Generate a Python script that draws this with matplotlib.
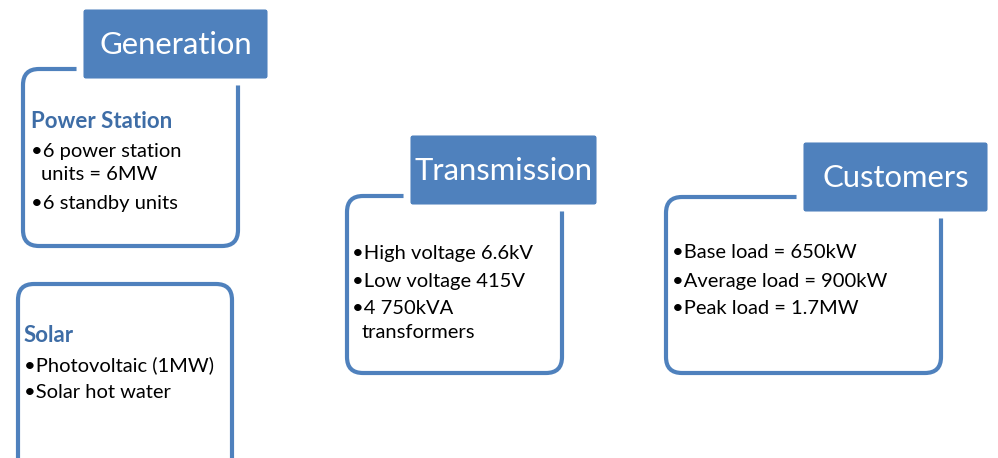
import matplotlib.pyplot as plt
from matplotlib.patches import FancyBboxPatch

plt.rcParams['font.family'] = ['Lato', 'DejaVu Sans']

# header boxes: label, (x, y, w, h) in pixels
headers = ['Generation', 'Transmission', 'Customers']
header_boxes = [(80, 6, 191, 76), (407, 132, 193, 76), (800, 139, 191, 76)]

# outline boxes
outline_boxes = [(23, 69, 215, 177), (18, 284, 214, 190), (347, 196, 215, 177), (666, 197, 275, 176)]

# sub-headings inside boxes
sub_titles = ['Power Station', 'Solar', '', '']
sub_title_y = [121, 335, 0, 0]

# bullet lines: (text, is_continuation)
box_lines = [
    [('6 power station', False), ('units = 6MW', True), ('6 standby units', False)],
    [('Photovoltaic (1MW)', False), ('Solar hot water', False)],
    [('High voltage 6.6kV', False), ('Low voltage 415V', False), ('4 750kVA', False), ('transformers', True)],
    [('Base load = 650kW', False), ('Average load = 900kW', False), ('Peak load = 1.7MW', False)],
]
line_y = [
    [151, 174, 203],
    [365, 393],
    [253, 281, 309, 333],
    [253, 281, 309],
]
text_x = [31, 24, 352, 672]

blue = '#4F81BD'
dark_blue = '#3E6DA6'

fig = plt.figure(figsize=(9.98, 4.58), dpi=100)
ax = fig.add_axes([0, 0, 1, 1])
ax.set_xlim(0, 998)
ax.set_ylim(458, 0)
ax.axis('off')

for (x, y, w, h) in outline_boxes:
    ax.add_patch(FancyBboxPatch((x, y), w, h, boxstyle='round,pad=0,rounding_size=16',
                                fc='white', ec=blue, lw=3.0, zorder=1))

for label, (x, y, w, h) in zip(headers, header_boxes):
    ax.add_patch(FancyBboxPatch((x, y), w, h, boxstyle='round,pad=0,rounding_size=6',
                                fc=blue, ec='white', lw=5, zorder=2))
    ax.text(x + w / 2, y + h / 2 + 1, label, color='white', fontsize=22.3,
            ha='center', va='center', zorder=3)

for i in range(len(outline_boxes)):
    if sub_titles[i]:
        ax.text(text_x[i], sub_title_y[i], sub_titles[i], color=dark_blue, fontsize=16,
                fontweight='bold', ha='left', va='center', zorder=3)
    for (txt, cont), y in zip(box_lines[i], line_y[i]):
        if cont:
            ax.text(text_x[i] + 10, y, txt, fontsize=14.5, ha='left', va='center', zorder=3)
        else:
            ax.text(text_x[i], y, '\u2022' + txt, fontsize=14.5, ha='left', va='center', zorder=3)

fig.savefig('out.png', dpi=100)
